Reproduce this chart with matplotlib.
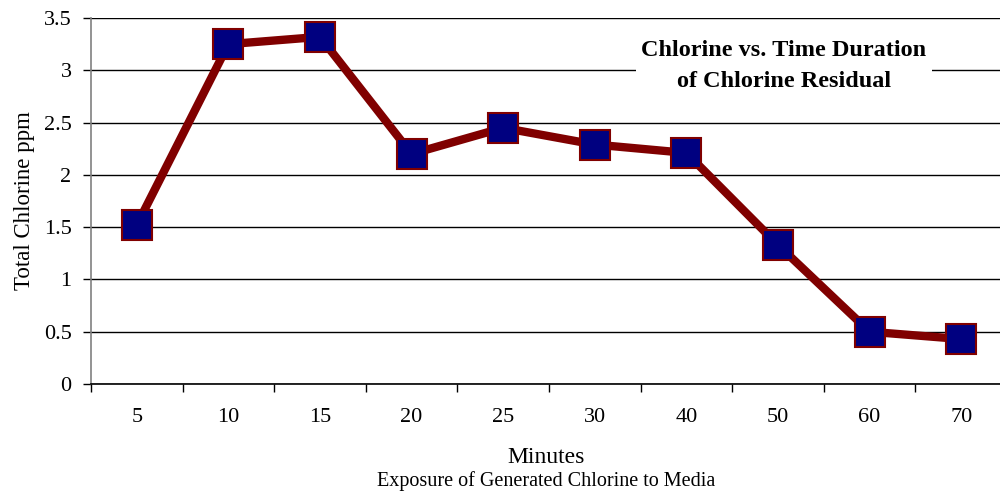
import matplotlib
matplotlib.use("Agg")
import matplotlib.pyplot as plt
import numpy as np

categories = ["5", "10", "15", "20", "25", "30", "40", "50", "60", "70"]
chlorine = [1.52, 3.25, 3.32, 2.20, 2.45, 2.29, 2.21, 1.33, 0.50, 0.43]
yticks = [0, 0.5, 1, 1.5, 2, 2.5, 3, 3.5]
ytick_labels = ["0", "0.5", "1", "1.5", "2", "2.5", "3", "3.5"]

plt.rcParams['font.family'] = ['Liberation Serif', 'DejaVu Serif']

fig = plt.figure(figsize=(10, 4.91), dpi=100)
ax = fig.add_axes([0.091, 0.2179, 0.916, 0.7454])

x = np.arange(len(categories))
ax.plot(x, chlorine, color="#800000", lw=6, marker="s", markersize=21,
        markerfacecolor="#000080", markeredgecolor="#800000", markeredgewidth=1.5,
        zorder=3, clip_on=False)

ax.set_xlim(-0.5, len(categories) - 0.5)
ax.set_ylim(0, 3.5)
ax.set_yticks(yticks)
ax.set_yticklabels(ytick_labels, fontsize=16)
ax.set_xticks(x)
ax.set_xticklabels(categories, fontsize=16)
ax.tick_params(axis='x', which='major', length=0, pad=17)
ax.set_xticks(np.arange(len(categories) + 1) - 0.5, minor=True)
ax.tick_params(axis='x', which='minor', length=6, width=1, direction='out', color='black')
ax.tick_params(axis='y', length=6, width=1, direction='out', color='black', pad=8)

ax.grid(axis='y', color='black', lw=1)
ax.set_axisbelow(True)
for s in ['top', 'right']:
    ax.spines[s].set_visible(False)
ax.spines['left'].set_color('#808080')
ax.spines['left'].set_linewidth(1.2)
ax.spines['bottom'].set_color('black')
ax.spines['bottom'].set_linewidth(1.2)

ax.set_ylabel("Total Chlorine ppm", fontsize=16.5, labelpad=6)
fig.text(0.546, 0.069, "Minutes", fontsize=17, ha='center', va='center')
fig.text(0.546, 0.021, "Exposure of Generated Chlorine to Media", fontsize=14.5, ha='center', va='center')

ax.text(0.7566, 0.869, "Chlorine vs. Time Duration\nof Chlorine Residual", transform=ax.transAxes,
        fontsize=17.5, fontweight='bold', ha='center', va='center', linespacing=1.65,
        bbox=dict(facecolor='white', edgecolor='none', pad=4), zorder=4)

fig.savefig("out.png", dpi=100)
